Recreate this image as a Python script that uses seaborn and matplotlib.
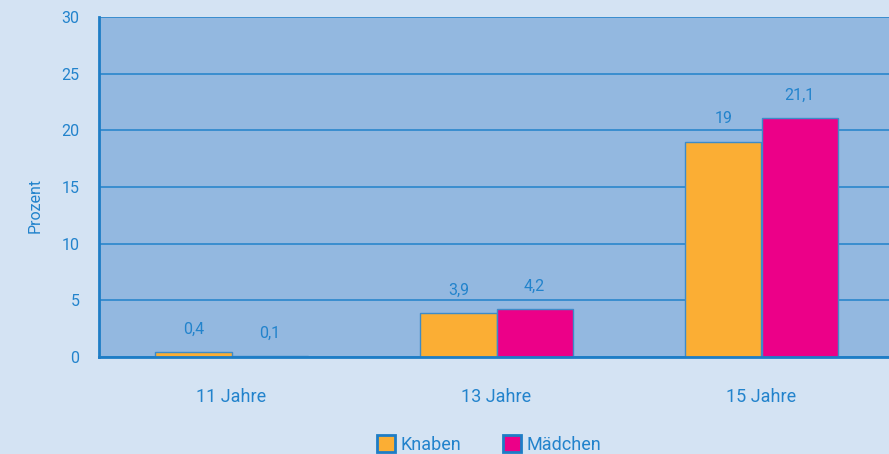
import pandas as pd
import matplotlib.pyplot as plt
import seaborn as sns
from matplotlib.patches import Patch

ages = ['11 Jahre', '13 Jahre', '15 Jahre']
knaben = [0.4, 3.9, 19.0]
maedchen = [0.1, 4.2, 21.1]
groups = ['Knaben', 'Mädchen']

df = pd.DataFrame({
    'age': ages * 2,
    'value': knaben + maedchen,
    'group': [groups[0]] * 3 + [groups[1]] * 3,
})

blue = '#1E7DC6'
txt = '#2283CC'
colors = {'Knaben': '#FBAE34', 'Mädchen': '#EC0088'}

sns.set_style('white')
plt.rcParams['font.family'] = ['Roboto', 'DejaVu Sans']

fig = plt.figure(figsize=(8.89, 4.54), dpi=100)
fig.patch.set_facecolor('#D4E3F3')
ax = fig.add_axes([99 / 889, 1 - 357 / 454, 795 / 889, 340 / 454])
ax.set_facecolor('#93B8E0')

sns.barplot(data=df, x='age', y='value', hue='group', palette=colors, saturation=1,
            width=0.574, edgecolor='#3D8BC9', linewidth=1, ax=ax, legend=False)

ax.set_ylim(0, 30)
ax.set_xlim(-0.5, 2.5)
ax.set_yticks(range(0, 31, 5))
ax.yaxis.grid(True, color='#2A86CC', linewidth=1.2)
ax.set_axisbelow(True)

for s in ['top', 'right']:
    ax.spines[s].set_visible(False)
for s in ['left', 'bottom']:
    ax.spines[s].set_color(blue)
    ax.spines[s].set_linewidth(2)

ax.tick_params(axis='y', color=blue, labelcolor=txt, labelsize=11.5, length=6, width=2,
               direction='out', pad=8)
ax.tick_params(axis='x', which='major', labelcolor=txt, labelsize=13, length=0, pad=22)
ax.set_xticks([-0.5, 0.5, 1.5], minor=True)
ax.tick_params(axis='x', which='minor', color=blue, length=8, width=2, direction='out')
ax.set_xlabel('')
ax.set_ylabel('Prozent', color=txt, fontsize=11.5)
ax.yaxis.set_label_coords(-0.071, 0.447)

# value labels with decimal commas
for cont, vals in zip(ax.containers, [knaben, maedchen]):
    lbls = [('%g' % v).replace('.', ',') for v in vals]
    ax.bar_label(cont, labels=lbls, padding=11, color=txt, fontsize=11.5)

handles = [Patch(facecolor=colors[g], edgecolor=blue, linewidth=2, label=g) for g in groups]
leg = fig.legend(handles=handles, loc='lower center', bbox_to_anchor=(0.55, -0.035), ncol=2,
                 frameon=False, handlelength=1.0, handleheight=1.0, handletextpad=0.3,
                 columnspacing=2.3, fontsize=13)
for t in leg.get_texts():
    t.set_color(txt)

fig.savefig('out.png', dpi=100, facecolor=fig.get_facecolor())
